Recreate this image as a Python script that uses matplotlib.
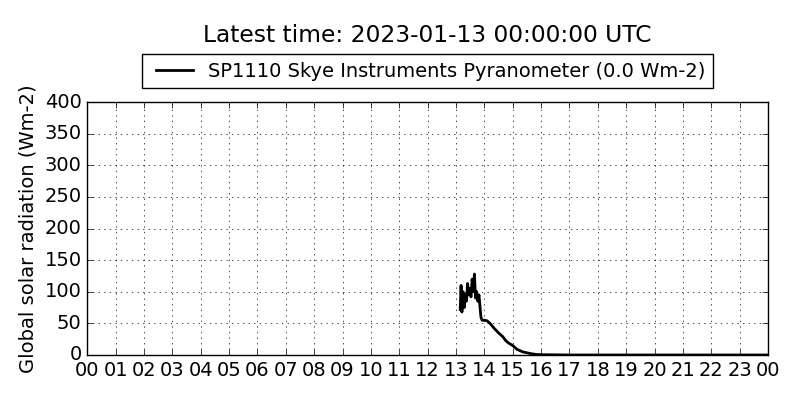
import matplotlib
matplotlib.use('Agg')
import matplotlib.pyplot as plt

plt.style.use('classic')

# hours of day (UTC) and global solar radiation (Wm-2)
hours = [13.15, 13.18, 13.21, 13.25, 13.29, 13.33, 13.37, 13.41, 13.45, 13.49,
         13.53, 13.57, 13.61, 13.65, 13.69, 13.73, 13.77, 13.81, 13.85, 13.88,
         13.92, 14.0, 14.1, 14.2, 14.35, 14.5, 14.65, 14.75, 14.85, 15.0,
         15.15, 15.35, 15.6, 15.8, 16.0, 17.0, 18.0, 19.0,
         20.0, 21.0, 22.0, 23.0, 24.0]
radiation = [72, 110, 68, 100, 75, 95, 85, 113, 95, 105,
             92, 120, 100, 128, 90, 100, 85, 95, 75, 60,
             55, 55, 54, 50, 42, 35, 29, 23, 19, 15,
             9, 5, 2.5, 1, 0.5, 0, 0, 0,
             0, 0, 0, 0, 0]
hour_ticks = list(range(25))
hour_labels = ['%02d' % (h % 24) for h in hour_ticks]

fig = plt.figure(figsize=(8, 4), dpi=100, facecolor='white')
ax = fig.add_axes([0.109, 0.1125, 0.851, 0.6325])
ax.plot(hours, radiation, color='black', linewidth=2,
        label='SP1110 Skye Instruments Pyranometer (0.0 Wm-2)')
ax.set_xlim(0, 24)
ax.set_ylim(0, 400)
ax.set_xticks(hour_ticks)
ax.set_xticklabels(hour_labels)
ax.tick_params(labelsize=14)
ax.grid(True)
ax.set_ylabel('Global solar radiation (Wm-2)', fontsize=14)
ax.legend(loc='upper center', bbox_to_anchor=(0.5, 1.19), fontsize=14,
          borderaxespad=0, handlelength=2.5, handletextpad=0.5)
fig.text(0.534, 0.91, 'Latest time: 2023-01-13 00:00:00 UTC', fontsize=16.8,
         ha='center', va='center')

fig.savefig('out.png', dpi=100, facecolor='white')
